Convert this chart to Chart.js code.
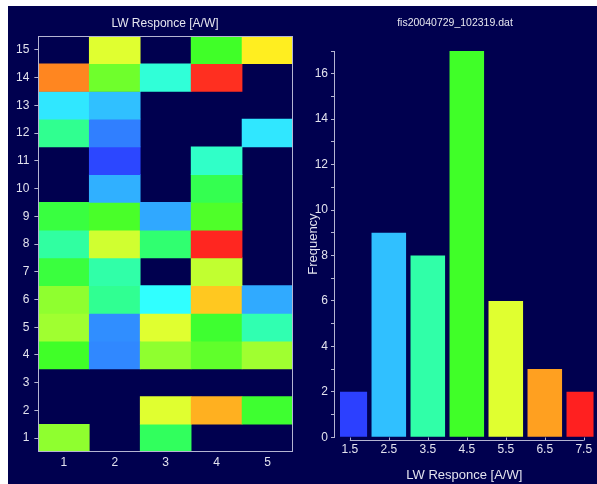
<!DOCTYPE html>
<html>
<head>
<meta charset="utf-8">
<script src="https://cdn.jsdelivr.net/npm/chart.js@4.4.1/dist/chart.umd.min.js"></script>
<style>
    html, body { margin: 0; padding: 0; background: #fff; }
    #frame { position: absolute; left: 8px; top: 6px; width: 589px; height: 478px; background: #00004f; overflow: hidden; }
    #heat { position: absolute; left: 0; top: 0; }
    #hist { position: absolute; left: 290px; top: 0; }
    .title { position: absolute; top: 10px; color: #e6e6f0; font-family: "Liberation Sans", Arial, sans-serif; white-space: nowrap; transform: translateX(-50%); }
</style>
</head>
<body>
<div id="frame">
    <canvas id="heat" width="290" height="478"></canvas>
    <canvas id="hist" width="299" height="478"></canvas>
    <div class="title" style="left:157px; font-size:12px;">LW Responce [A/W]</div>
    <div class="title" style="left:447px; font-size:10.5px;">fis20040729_102319.dat</div>
</div>

<script>
/* Data */
const columns = ["1", "2", "3", "4", "5"];
const rowLabels = [15, 14, 13, 12, 11, 10, 9, 8, 7, 6, 5, 4, 3, 2, 1];

// LW responce per cell, top row (15) first, columns 1..5 (null = no cell)
const heatRows = [
    [null, 5.5,  null, 4.5,  5.9 ],
    [6.7,  4.72, 3.17, 7.38, null],
    [2.75, 2.5,  null, null, null],
    [3.67, 1.94, null, null, 2.75],
    [null, 1.55, null, 3.28, null],
    [null, 2.36, null, 4.14, null],
    [4.29, 4.54, 2.29, 4.57, null],
    [3.55, 5.36, 3.89, 7.45, null],
    [4.3,  3.5,  null, 5.23, null],
    [4.87, 3.65, 2.9,  6.19, 2.3 ],
    [4.95, 2.05, 5.5,  4.43, 3.44],
    [4.5,  2.0,  4.87, 4.65, 4.95],
    [null, null, null, null, null],
    [null, null, 5.5,  6.38, 4.43],
    [4.87, null, 4.03, null, null]
];

const binCenters = [1.5, 2.5, 3.5, 4.5, 5.5, 6.5, 7.5];
const frequency = [2, 9, 8, 17, 6, 3, 2];

/* Couleurs */
const axisColor = "#b4b4d2";
const textColor = "#e2e2ee";
const colorStops = [
    [1.5, "#2c40ff"], [2.0, "#3088ff"], [2.5, "#30c0ff"], [2.9, "#30ffff"],
    [3.5, "#30ffa8"], [4.0, "#30ff60"], [4.5, "#40ff28"], [4.95, "#a0ff30"],
    [5.5, "#e0ff30"], [5.9, "#ffee20"], [6.5, "#ffa020"], [7.5, "#ff2020"]
];

function hexToRgb(hex) {
    let n = parseInt(hex.slice(1), 16);
    return [(n >> 16) & 255, (n >> 8) & 255, n & 255];
}

function colorAt(v) {
    if (v <= colorStops[0][0]) return colorStops[0][1];
    for (let i = 1; i < colorStops.length; i++) {
        if (v <= colorStops[i][0]) {
            let [v0, c0] = colorStops[i - 1];
            let [v1, c1] = colorStops[i];
            let t = (v - v0) / (v1 - v0);
            let a = hexToRgb(c0), b = hexToRgb(c1);
            let rgb = a.map((x, k) => Math.round(x + (b[k] - x) * t));
            return `rgb(${rgb[0]}, ${rgb[1]}, ${rgb[2]})`;
        }
    }
    return colorStops[colorStops.length - 1][1];
}

Chart.defaults.font.family = '"Liberation Sans", Arial, sans-serif';
Chart.defaults.font.size = 12;
Chart.defaults.color = textColor;

// cadre autour de la zone du heatmap
const plotFrame = {
    id: "plotFrame",
    afterDatasetsDraw(chart) {
        let a = chart.chartArea;
        let ctx = chart.ctx;
        ctx.save();
        ctx.strokeStyle = axisColor;
        ctx.lineWidth = 1;
        ctx.strokeRect(Math.round(a.left) + 0.5, Math.round(a.top) + 0.5,
            Math.round(a.right - a.left) - 1, Math.round(a.bottom - a.top) - 1);
        ctx.restore();
    }
};

// axe x du histogramme, seulement entre le premier et le dernier tick
const histAxisLine = {
    id: "histAxisLine",
    afterDraw(chart) {
        let x = chart.scales.x;
        let ctx = chart.ctx;
        let y = Math.round(chart.chartArea.bottom) + 3.5;
        ctx.save();
        ctx.strokeStyle = axisColor;
        ctx.lineWidth = 1;
        ctx.beginPath();
        ctx.moveTo(x.getPixelForValue(binCenters[0]), y);
        ctx.lineTo(x.getPixelForValue(binCenters[binCenters.length - 1]), y);
        binCenters.forEach(v => {
            let px = Math.round(x.getPixelForValue(v)) + 0.5;
            ctx.moveTo(px, y);
            ctx.lineTo(px, y - 3);
        });
        ctx.stroke();
        ctx.restore();
    }
};

/* Heatmap */
new Chart(document.getElementById("heat"), {
    type: "bar",
    data: {
        labels: columns,
        datasets: heatRows.map((row, i) => {
            let y = rowLabels[i];
            return {
                data: row.map(v => v === null ? null : [y - 0.5, y + 0.5]),
                backgroundColor: row.map(v => v === null ? "transparent" : colorAt(v)),
                borderWidth: 0,
                grouped: false,
                barPercentage: 1,
                categoryPercentage: 1
            };
        })
    },
    options: {
        responsive: false,
        animation: false,
        layout: { padding: { top: 30, left: 3, right: 5, bottom: 11.6 } },
        plugins: { legend: { display: false }, tooltip: { enabled: false } },
        scales: {
            x: {
                grid: { display: false, drawTicks: false },
                border: { display: false },
                ticks: { padding: 3, color: textColor }
            },
            y: {
                min: 0.5,
                max: 15.5,
                afterBuildTicks: axis => { axis.ticks = rowLabels.map(v => ({ value: v })); },
                grid: { drawOnChartArea: false, drawTicks: true, tickLength: 4, color: axisColor },
                border: { display: false },
                ticks: { padding: 5, color: textColor }
            }
        }
    },
    plugins: [plotFrame]
});

/* Histogramme */
new Chart(document.getElementById("hist"), {
    type: "bar",
    data: {
        datasets: [{
            data: binCenters.map((x, i) => ({ x: x, y: frequency[i] })),
            backgroundColor: binCenters.map(colorAt),
            borderWidth: 0,
            barPercentage: 0.886,
            categoryPercentage: 1,
            clip: { left: -5, top: 0, right: 0, bottom: 0 }
        }]
    },
    options: {
        responsive: false,
        animation: false,
        layout: { padding: { top: 45, left: 2, right: 2, bottom: 0 } },
        plugins: { legend: { display: false }, tooltip: { enabled: false } },
        scales: {
            x: {
                type: "linear",
                offset: false,
                min: 1.12,
                max: 7.75,
                afterBuildTicks: axis => { axis.ticks = binCenters.map(v => ({ value: v })); },
                grid: { display: false, drawTicks: false, offset: false },
                border: { display: false },
                ticks: { padding: 4.8, color: textColor, callback: v => v.toFixed(1) },
                title: {
                    display: true,
                    text: "LW Responce [A/W]",
                    color: textColor,
                    font: { size: 13 },
                    padding: { top: 6, bottom: 1.2 }
                }
            },
            y: {
                min: 0,
                max: 17,
                ticks: { stepSize: 1, padding: 3, color: textColor, callback: v => v % 2 === 0 ? v : "" },
                grid: { drawOnChartArea: false, drawTicks: true, tickLength: 4, color: axisColor },
                border: { display: true, color: axisColor, width: 1 },
                title: {
                    display: true,
                    text: "Frequency",
                    color: textColor,
                    font: { size: 13 },
                    padding: { top: 5.2, bottom: -9.15 }
                }
            }
        }
    },
    plugins: [histAxisLine]
});
</script>
</body>
</html>
